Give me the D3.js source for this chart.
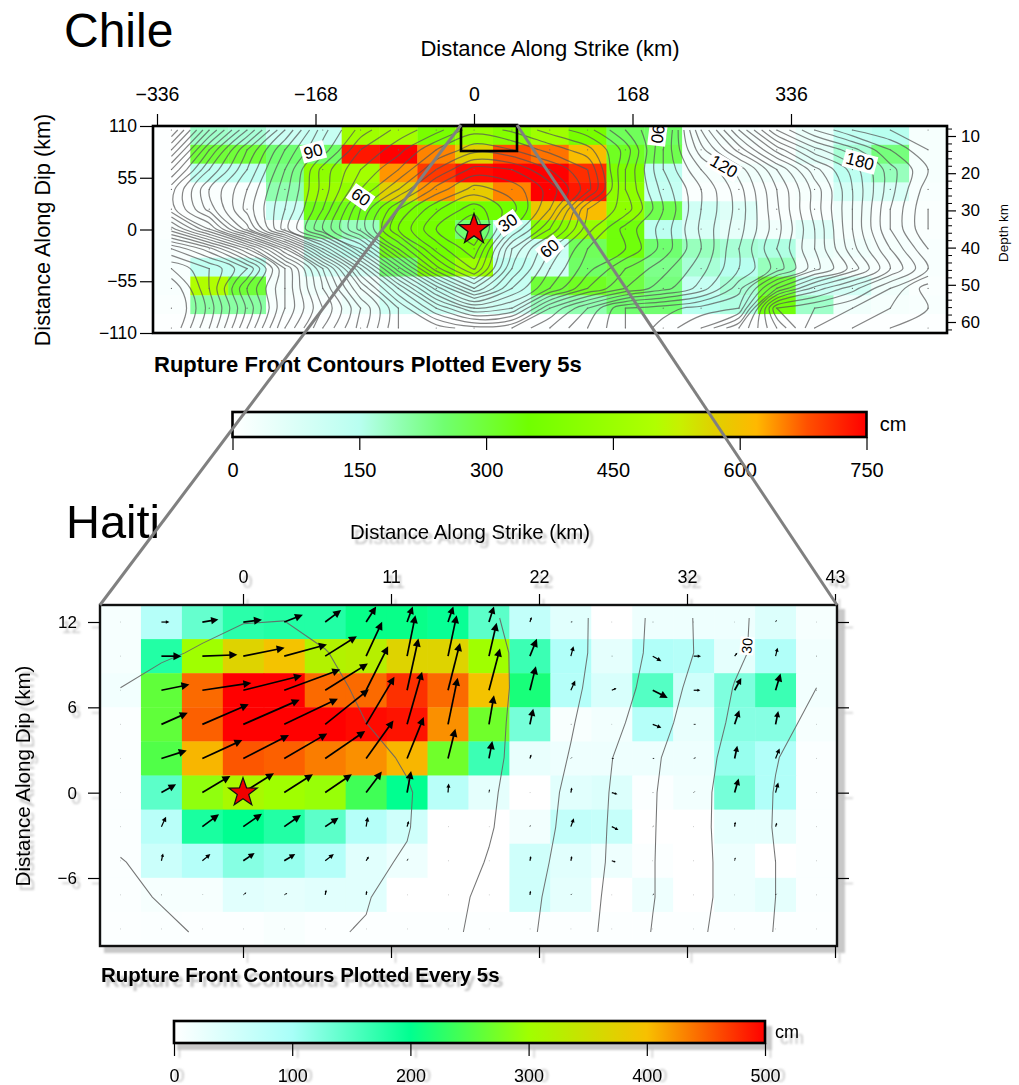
<!DOCTYPE html>
<html><head><meta charset="utf-8">
<script src="https://cdn.jsdelivr.net/npm/d3@7"></script>
<style>
html,body{margin:0;padding:0;background:#fff}
svg{display:block}
text{font-family:"Liberation Sans",Arial,sans-serif;fill:#000}
</style></head><body>
<svg id="c" width="1019" height="1085"></svg>
<script>
// ---------- Chile data ----------
const chileSlip=[
[5,180,170,110,120,460,470,370,440,400,460,370,270,260,20,20,10,40,130,150,20],
[5,300,300,250,260,730,750,650,570,680,660,610,320,280,20,10,10,60,170,240,20],
[5,130,130,230,420,470,640,700,740,750,750,710,380,130,20,30,30,30,140,190,20],
[5,10,10,200,450,430,570,640,580,650,750,730,420,120,10,10,10,20,90,80,15],
[5,10,10,110,330,330,370,360,350,350,590,610,420,280,100,70,10,10,30,10,10],
[10,10,10,10,220,190,370,360,250,130,400,440,340,140,80,50,30,70,20,15,10],
[15,10,10,10,120,140,330,350,370,90,110,270,340,250,190,170,160,40,30,20,15],
[15,130,130,20,90,90,250,370,450,130,100,260,290,230,170,150,190,30,20,15,15],
[15,500,300,20,30,30,100,120,100,120,300,320,290,240,120,170,300,110,90,30,10],
[10,210,210,15,15,40,100,110,90,100,190,200,250,250,150,160,340,180,30,20,15],
[5,10,5,5,5,5,5,5,5,5,5,5,5,5,5,5,5,5,5,5,5]];
const chileTime=[
[195,165,140,115,92,78,68,62,52,56,62,68,80,92,125,150,175,190,200,205,210],
[180,150,125,105,88,70,62,50,42,45,52,58,72,95,118,137,157,173,183,195,205],
[165,140,120,100,78,65,55,40,28,30,40,50,75,95,110,122,140,158,172,188,200],
[152,130,115,97,78,60,45,28,18,22,32,48,75,92,105,118,135,152,170,188,203],
[152,133,113,95,75,50,30,16,7,18,35,65,72,90,105,117,134,152,170,190,205],
[172,150,122,92,70,48,25,10,0,25,45,68,82,92,106,118,133,150,170,190,205],
[200,187,165,135,100,70,40,18,6,40,60,75,80,92,105,120,135,150,168,185,200],
[215,205,190,160,130,95,62,32,14,45,65,78,90,98,108,120,132,148,162,180,195],
[225,205,180,160,135,110,85,58,35,55,70,85,95,103,112,128,155,172,183,195,208],
[228,208,184,160,140,120,100,80,65,70,95,110,125,128,132,135,185,190,195,200,205],
[225,205,180,155,135,118,100,98,92,95,105,115,125,132,140,155,175,195,200,205,208]];
const chileXTicks=[-336,-168,0,168,336];
const chileYTicks=[110,55,0,-55,-110];
const chileDepthMajor=[10,20,30,40,50,60];
const chileDepthMinor=[8,12,14,16,18,22,24,26,28,32,34,36,38,42,44,46,48,52,54,56,58,62];
const chileBarTicks=[0,150,300,450,600,750];
const chileColorDomain=[0,150,200,250,350,500,530,570,620,680,750];
const chileColorRange=["#ffffff","#b8fff0","#90ffb0","#70ff70","#70ff00","#b0ff00","#c8f000","#e0d000","#ffb800","#ff5000","#ff0000"];
const chileLabels=[[30,8.9,4.7,-35],[60,5,3.4,35],[60,10,6,-40],[90,3.75,1.1,-15],[90,12.85,0.2,97],[120,14.6,1.85,30],[180,18.2,1.6,15]];

// ---------- Haiti data ----------
const haitiSlip=[
[10,85,140,175,180,180,205,205,195,145,70,35,0,20,20,20,40,10],
[10,180,300,370,395,320,325,370,370,300,165,90,30,90,85,30,90,15],
[15,260,445,500,500,445,445,475,445,395,215,85,45,150,55,125,165,15],
[5,260,450,500,500,500,495,490,425,270,130,8,15,85,25,120,120,10],
[5,250,405,455,450,435,425,405,270,165,25,20,20,20,20,110,90,5],
[5,145,290,310,300,295,240,200,80,30,0,35,40,5,15,130,90,5],
[5,80,185,200,180,145,85,55,0,0,15,70,65,0,0,30,30,5],
[5,60,85,120,110,85,35,20,0,0,55,35,20,5,0,20,0,5],
[5,10,10,35,30,35,35,0,0,0,55,30,0,20,0,20,30,5],
[4,5,4,4,8,4,4,4,4,4,4,4,4,4,4,4,4,4]];
const haitiTime=[
[7,6.5,5.8,5.2,5.1,5.8,6.8,7.8,8.8,9.7,10.85,13.6,16.9,20.7,25.1,28.9,32,34],
[6,5.4,4.7,4,3.9,4.9,6,7.1,8.2,9.2,10.85,13.6,17,20.9,25,29.1,32,34.8],
[5,4,3.2,2.8,3.2,4.3,5.5,6.7,7.9,9.1,10.9,14,17.5,21.7,26.2,30.2,32.6,35],
[4.6,3.6,2.5,1.9,2.6,3.7,5,6.4,7.7,9.2,11.1,14.6,18.6,22.8,27.1,30.8,33.8,36],
[4.3,3.2,2,1,1.9,3,4,5.4,7.2,9,11.7,15.3,19.9,24.2,28,31.5,34.8,37],
[4.2,3,1.6,0,1.5,2.8,3.8,4.7,6.9,9.3,12.4,16,20.3,24.6,28.4,32,35.2,38],
[4.4,3.3,2.2,1.4,2,3,4,4.8,7.2,9.6,12.8,16.3,20.5,24.7,28.5,32,35.3,38],
[5.1,4.4,3.5,2.8,3.1,3.8,4.4,5.3,7.8,10.3,13.4,16.8,20.6,24.8,28.4,31.8,35,37.5],
[5.7,4.8,4.4,4.2,4.3,4.5,4.8,6.4,8.6,11.2,14,17.4,20.9,24.8,28.4,31.8,35,37.5],
[7.5,5.6,4.7,4.4,4.5,4.7,5.2,7.1,9.1,11.5,14.4,17.7,21.2,25.2,28.8,32.3,35.2,38]];
const haitiSlipU=[
[1,24,48,56,56,48,30,17,16,15,5,6,1,2,1,1,4,1],
[1,60,105,124,128,95,48,25,26,23,21,8,2,26,22,8,6,2],
[1,84,147,176,168,128,66,34,36,33,18,13,14,45,20,20,15,2],
[1,79,139,169,161,131,85,45,29,15,10,2,1,26,8,14,8,1],
[1,76,120,137,129,120,82,50,22,10,4,4,8,6,8,8,12,1],
[1,44,84,92,86,80,47,12,2,2,1,3,17,2,4,12,8,1],
[1,14,50,56,50,40,5,5,1,1,2,9,20,3,1,2,4,1],
[1,5,24,34,33,26,8,4,1,1,3,3,12,1,1,2,1,1],
[1,2,1,9,9,3,2,1,1,1,2,4,1,5,1,1,4,1],
[1,1,1,1,1,1,1,1,1,1,1,1,1,1,1,1,1,1]];
const haitiSlipV=[
[0,0,-8,-7,-22,-36,-47,-47,-47,-47,-15,-1,0,0,0,0,-8,0],
[0,0,-4,-25,-35,-60,-103,-123,-123,-100,-52,-30,0,15,0,-10,-25,0],
[0,-17,-22,-44,-62,-80,-132,-155,-142,-125,-72,-29,-6,23,0,-37,-50,0],
[0,-35,-60,-74,-77,-105,-143,-158,-140,-87,-47,0,0,10,0,-42,-40,0],
[0,-24,-55,-70,-75,-82,-114,-124,-89,-52,-12,-4,0,0,-3,-38,-30,0],
[0,-25,-50,-58,-55,-55,-63,-65,-27,-10,0,-15,5,0,-4,-42,-30,0],
[0,-30,-37,-39,-35,-27,-29,-17,0,0,-5,-25,10,-2,0,-15,-12,0],
[0,-22,-20,-23,-20,-20,-13,-8,0,0,-14,-14,4,0,0,-10,0,0],
[0,0,-1,-7,-5,-15,-12,0,0,0,-12,-4,0,-4,0,0,-4,0],
[0,0,0,0,0,0,0,0,0,0,0,0,0,0,0,0,0,0]];
const haitiXTicks=[0,10.75,21.5,32.25,43];
const haitiYTicks=[12,6,0,-6];
const haitiBarTicks=[0,100,200,300,400,500];
const haitiColorDomain=[0,100,200,300,400,500];
const haitiColorRange=["#ffffff","#a8fff8","#00ff90","#a0ff00","#f8c000","#ff0000"];

// ---------- helpers ----------
const svg=d3.select("#c");
const defs=svg.append("defs");
defs.append("filter").attr("id","bl").attr("x","-5%").attr("y","-5%").attr("width","110%").attr("height","110%")
  .append("feGaussianBlur").attr("stdDeviation",0.8);
defs.append("clipPath").attr("id","clipC").append("rect").attr("x",153).attr("y",126).attr("width",794).attr("height",207);
defs.append("clipPath").attr("id","clipH").append("rect").attr("x",100).attr("y",605).attr("width",737).attr("height",341);

function txt(g,s,x,y,size,o={}){
  const t=g.append("text").attr("x",x).attr("y",y).attr("font-size",size).attr("text-anchor",o.anchor||"middle")
    .attr("dominant-baseline","central").text(s);
  if(o.weight)t.attr("font-weight",o.weight);
  if(o.rot!==undefined)t.attr("transform",`rotate(${o.rot} ${x} ${y})`);
  if(o.fill)t.style("fill",o.fill);
  return t;
}
function contourLines(g,grid,thresholds,xf,yf,stroke,width,op,curve){
  const ny=grid.length,nx=grid[0].length;
  const cs=d3.contours().size([nx,ny]).thresholds(thresholds)(grid.flat());
  const line=d3.line().x(p=>xf(p[0]-0.5)).y(p=>yf(p[1]-0.5)).curve(curve);
  cs.forEach(c=>c.coordinates.forEach(poly=>poly.forEach(ring=>{
    let seg=[];const segs=[];
    const inner=p=>p[0]>0.25&&p[0]<nx-0.25&&p[1]>0.25&&p[1]<ny-0.25;
    ring.forEach(p=>{ if(inner(p))seg.push(p); else {if(seg.length>1)segs.push(seg);seg=[];} });
    if(seg.length>1)segs.push(seg);
    if(segs.length>1&&inner(ring[0])&&inner(ring[ring.length-1])){const l=segs.pop();segs[0]=l.concat(segs[0]);}
    segs.forEach(s=>g.append("path").attr("d",line(s)).attr("fill","none").attr("stroke",stroke).attr("stroke-width",width).attr("stroke-opacity",op));
  })));
}
function star(g,cx,cy,R,sw){
  const pts=d3.range(10).map(i=>{const r=i%2?R*0.4:R,a=-Math.PI/2+i*Math.PI/5;return [cx+r*Math.cos(a),cy+r*Math.sin(a)];});
  g.append("polygon").attr("points",pts.join(" ")).attr("fill","#f00000").attr("stroke","#111").attr("stroke-width",sw).attr("stroke-linejoin","miter");
}
function styleAxis(a,fs,sw,fill){
  a.select(".domain").remove();
  a.selectAll("line").attr("stroke",fill||"#000").attr("stroke-width",sw);
  a.selectAll("text").attr("font-size",fs).style("fill",fill||"#000");
}
function colorbar(id,x0,x1,y0,y1,dom,rng,ticks,tickLen,labY,fs){
  const sc=d3.scaleLinear().domain([dom[0],dom[dom.length-1]]).range([x0,x1]);
  const gr=defs.append("linearGradient").attr("id",id);
  dom.forEach((d,i)=>gr.append("stop").attr("offset",(d-dom[0])/(dom[dom.length-1]-dom[0])).attr("stop-color",rng[i]));
  const g=svg.append("g");
  const ax=g.append("g").attr("transform",`translate(0,${y1})`).call(d3.axisBottom(sc).tickValues(ticks).tickSize(tickLen).tickPadding(labY-y1-tickLen-0.35*fs).tickFormat(d3.format("d")));
  styleAxis(ax,fs,1.2);
  g.append("rect").attr("x",x0).attr("y",y0).attr("width",x1-x0).attr("height",y1-y0).attr("fill",`url(#${id})`).attr("stroke","#000").attr("stroke-width",2.6);
  return {g,sc};
}

// ---------- Chile panel ----------
const xC=d3.scaleBand().domain(d3.range(21)).range([152.5,947]);
const yC=d3.scaleBand().domain(d3.range(11)).range([126,333]);
const colC=d3.scaleLinear().domain(chileColorDomain).range(chileColorRange).clamp(true);
const xKm=d3.scaleLinear().domain([-336,336]).range([157,791]);
const yKm=d3.scaleLinear().domain([110,-110]).range([126,333]);
const depth=d3.scaleLinear().domain([10,60]).range([136,322]);
const cg=svg.append("g");
const plotC=cg.append("g").attr("clip-path","url(#clipC)");
chileSlip.forEach((r,j)=>r.forEach((v,i)=>plotC.append("rect").attr("x",xC(i)).attr("y",yC(j)).attr("width",xC.bandwidth()+0.4).attr("height",yC.bandwidth()+0.4).attr("fill",colC(v))));
const cw=xC.bandwidth();
const xfC=c=>xC(0)+cw/2+c*cw;
const yfC=d3.scaleLinear().domain([0,10]).range([130,328]);
contourLines(plotC,chileTime,d3.range(5,225,5),xfC,yfC,"#555",1.2,0.72,d3.curveCatmullRom.alpha(0.5));
chileSlip.forEach((r,j)=>r.forEach((v,i)=>plotC.append("circle").attr("cx",xfC(i)).attr("cy",yfC(j)).attr("r",0.6).attr("fill","#666")));
chileLabels.forEach(([v,c,r,rot])=>{
  const x=xfC(c),y=yfC(r);
  const l=plotC.append("g").attr("transform",`translate(${x},${y}) rotate(${rot})`);
  const w=String(v).length*9.4+5;
  l.append("rect").attr("x",-w/2).attr("y",-9).attr("width",w).attr("height",18).attr("fill","#fff");
  txt(l,v,0,0,17);
});
star(cg,xKm(0),yKm(0),16,1.3);
cg.append("rect").attr("x",153).attr("y",126).attr("width",794).attr("height",207).attr("fill","none").attr("stroke","#000").attr("stroke-width",2.6);
styleAxis(cg.append("g").attr("transform","translate(0,126)").call(d3.axisTop(xKm).tickValues(chileXTicks).tickSize(12).tickPadding(13).tickFormat(d3.format("d"))),19.5,1.2);
styleAxis(cg.append("g").attr("transform","translate(153,0)").call(d3.axisLeft(yKm).tickValues(chileYTicks).tickSize(13).tickPadding(3).tickFormat(d3.format("d"))),17.5,1.2);
styleAxis(cg.append("g").attr("transform","translate(947,0)").call(d3.axisRight(depth).tickValues(chileDepthMajor).tickSize(9).tickPadding(5).tickFormat(d3.format("d"))),17,1.2);
styleAxis(cg.append("g").attr("transform","translate(947,0)").call(d3.axisRight(depth).tickValues(chileDepthMinor).tickSize(5).tickFormat("")),15,1);
txt(cg,"Chile",64,30,48,{anchor:"start"});
txt(cg,"Distance Along Strike (km)",550,48,22);
txt(cg,"Distance Along Dip (km)",42,230,21.7,{rot:-90});
txt(cg,"Depth km",1003,233,13.5,{rot:-90});
txt(cg,"Rupture Front Contours Plotted Every 5s",154,364,22,{anchor:"start",weight:"bold"});
const cbC=colorbar("gradC",232.5,866.5,412,437,chileColorDomain,chileColorRange,chileBarTicks,13,470,20);
txt(cbC.g,"cm",893,424,20);

// ---------- Haiti panel ----------
const xH=d3.scaleBand().domain(d3.range(18)).range([100,837]);
const yH=d3.scaleBand().domain(d3.range(10)).range([605,946]);
const colH=d3.scaleLinear().domain(haitiColorDomain).range(haitiColorRange).clamp(true);
const xStrike=d3.scaleLinear().domain([0,43]).range([243,835]);
const yDip=d3.scaleLinear().domain([12,-6]).range([622,878]);
const hg=svg.append("g");
// drop shadow of the pasted figure
const ghost=hg.append("g").attr("filter","url(#bl)");
const gFill="#c4c4c4";
ghost.append("rect").attr("x",104).attr("y",609).attr("width",741).attr("height",344).attr("fill","#c8c8c8");
const gh=hg.append("g").attr("transform","translate(4,5)").attr("filter","url(#bl)");
styleAxis(gh.append("g").attr("transform","translate(0,605)").call(d3.axisTop(xStrike).tickValues(haitiXTicks).tickSize(11).tickPadding(11).tickFormat(d=>Math.round(d))),18,1.2,gFill);
styleAxis(gh.append("g").attr("transform","translate(0,946)").call(d3.axisBottom(xStrike).tickValues(haitiXTicks).tickSize(12).tickFormat("")),16,1.2,gFill);
styleAxis(gh.append("g").attr("transform","translate(100,0)").call(d3.axisLeft(yDip).tickValues(haitiYTicks).tickSize(12).tickPadding(11).tickFormat(d3.format("d"))),17,1.2,gFill);
styleAxis(gh.append("g").attr("transform","translate(837,0)").call(d3.axisRight(yDip).tickValues(haitiYTicks).tickSize(12).tickFormat("")),16,1.2,gFill);
txt(gh,"Distance Along Strike (km)",470,532,20.4,{fill:gFill});
txt(gh,"Distance Along Dip (km)",22,776,20.6,{rot:-90,fill:gFill});
txt(gh,"Rupture Front Contours Plotted Every 5s",101,974,20.5,{anchor:"start",weight:"bold",fill:gFill});
const plotH=hg.append("g").attr("clip-path","url(#clipH)");
plotH.append("rect").attr("x",100).attr("y",605).attr("width",737).attr("height",341).attr("fill","#fff");
haitiSlip.forEach((r,j)=>r.forEach((v,i)=>plotH.append("rect").attr("x",xH(i)).attr("y",yH(j)).attr("width",xH.bandwidth()+0.4).attr("height",yH.bandwidth()+0.4).attr("fill",colH(v))));
const hw=xH.bandwidth(),hh=yH.bandwidth();
const xfH=c=>xH(0)+hw/2+c*hw,yfH=c=>yH(0)+hh/2+c*hh;
const yfHc=d3.scaleLinear().domain([0,9]).range([618,932]);
contourLines(plotH,haitiTime,d3.range(5,40,5),xfH,yfHc,"#666",1.05,0.9,d3.curveLinear);
const arrowScale=d3.scaleLinear().domain([0,3]).range([0,1]);
haitiSlipU.forEach((r,j)=>r.forEach((u,i)=>{
  const v=haitiSlipV[j][i],dx=arrowScale(u),dy=arrowScale(v),L=Math.hypot(dx,dy);
  const x0=xfH(i),y0=yfH(j),x1=x0+dx,y1=y0+dy,ux=dx/L,uy=dy/L;
  const head=Math.min(8,L*0.45),wd=head*0.5;
  plotH.append("line").attr("x1",x0).attr("y1",y0).attr("x2",x1-ux*head*0.6).attr("y2",y1-uy*head*0.6).attr("stroke","#000").attr("stroke-width",L>12?1.7:(L>4?1.2:0.8));
  if(L>3)plotH.append("polygon").attr("points",[[x1,y1],[x1-ux*head-uy*wd,y1-uy*head+ux*wd],[x1-ux*head+uy*wd,y1-uy*head-ux*wd]].join(" ")).attr("fill","#000");
}));
const lab30=plotH.append("g").attr("transform",`translate(${xfH(15.3)},${yfH(0.7)}) rotate(-85)`);
lab30.append("rect").attr("x",-9).attr("y",-7).attr("width",18).attr("height",14).attr("fill","#fff");
txt(lab30,30,0,0,14);
star(hg,xStrike(0),yDip(0),15,1.2);
hg.append("rect").attr("x",100).attr("y",605).attr("width",737).attr("height",341).attr("fill","none").attr("stroke","#111").attr("stroke-width",2.4);
styleAxis(hg.append("g").attr("transform","translate(0,605)").call(d3.axisTop(xStrike).tickValues(haitiXTicks).tickSize(11).tickPadding(11).tickFormat(d=>Math.round(d))),18,1.2);
styleAxis(hg.append("g").attr("transform","translate(0,946)").call(d3.axisBottom(xStrike).tickValues(haitiXTicks).tickSize(12).tickFormat("")),16,1.2);
styleAxis(hg.append("g").attr("transform","translate(100,0)").call(d3.axisLeft(yDip).tickValues(haitiYTicks).tickSize(12).tickPadding(11).tickFormat(d3.format("d"))),17,1.2);
styleAxis(hg.append("g").attr("transform","translate(837,0)").call(d3.axisRight(yDip).tickValues(haitiYTicks).tickSize(12).tickFormat("")),16,1.2);
txt(hg,"Haiti",66,521,47,{anchor:"start"});
txt(hg,"Distance Along Strike (km)",470,532,20.4);
txt(hg,"Distance Along Dip (km)",22,776,20.6,{rot:-90});
txt(hg,"Rupture Front Contours Plotted Every 5s",101,974,20.5,{anchor:"start",weight:"bold"});
// Haiti colour bar with its shadow
const sb=d3.scaleLinear().domain([0,500]).range([174,765]);
const gb=svg.append("g").attr("filter","url(#bl)");
gb.append("rect").attr("x",177).attr("y",1026).attr("width",595).attr("height",24).attr("fill","#c8c8c8");
styleAxis(gb.append("g").attr("transform","translate(5,1048)").call(d3.axisBottom(sb).tickValues(haitiBarTicks).tickSize(10).tickPadding(11).tickFormat(d3.format("d"))),18,1.2,gFill);
txt(gb,"cm",792,1038,18,{fill:gFill});
const cbH=colorbar("gradH",174,765,1021,1043,haitiColorDomain,haitiColorRange,haitiBarTicks,13,1076,18);
txt(cbH.g,"cm",787,1032,18);

// ---------- zoom box and connecting lines ----------
const ov=svg.append("g");
ov.append("rect").attr("x",461).attr("y",125).attr("width",56).attr("height",26).attr("fill","none").attr("stroke","#000").attr("stroke-width",2.6);
ov.append("line").attr("x1",461).attr("y1",125).attr("x2",100).attr("y2",605).attr("stroke","#808080").attr("stroke-width",3);
ov.append("line").attr("x1",517).attr("y1",125).attr("x2",837).attr("y2",605).attr("stroke","#808080").attr("stroke-width",3);
</script>
</body></html>
